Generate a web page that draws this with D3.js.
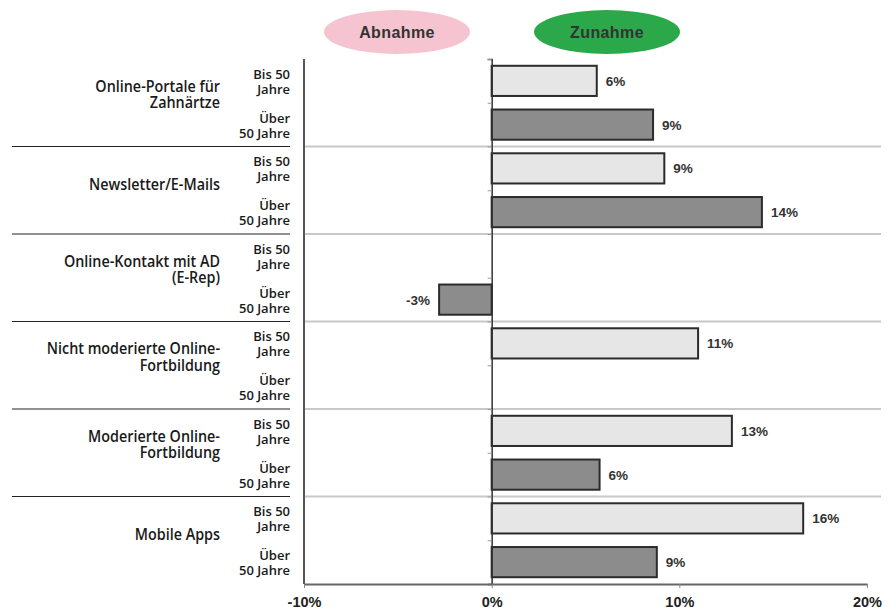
<!DOCTYPE html>
<html>
<head>
<meta charset="utf-8">
<script src="https://cdn.jsdelivr.net/npm/d3@7"></script>
<style>
  body { margin: 0; background: #fff; }
  svg { display: block; }
</style>
</head>
<body>
<script>
// categories (each one is the lines of its label)
const groups = [
  ['Online-Portale für', 'Zahnärtze'],
  ['Newsletter/E-Mails'],
  ['Online-Kontakt mit AD', '(E-Rep)'],
  ['Nicht moderierte Online-', 'Fortbildung'],
  ['Moderierte Online-', 'Fortbildung'],
  ['Mobile Apps']
];
const subgroups = ['bis50', 'ueber50'];
const subgroupLabels = [['Bis 50', 'Jahre'], ['Über', '50 Jahre']];

// change in %
const valuesBis50 = [5.6, 9.2, null, 11.0, 12.8, 16.6];
const valuesUeber50 = [8.6, 14.4, -2.8, null, 5.75, 8.8];
const labelsBis50 = ['6%', '9%', null, '11%', '13%', '16%'];
const labelsUeber50 = ['9%', '14%', '-3%', null, '6%', '9%'];

const xTicks = [-10, 0, 10, 20];
const legendItems = ['Abnahme', 'Zunahme'];

const width = 893;
const height = 610;
const margin = {top: 59, left: 304, right: 26, bottom: 26};

const svg = d3.select('body')
  .append('svg')
  .attr('width', width)
  .attr('height', height);

const xScale = d3.scaleLinear()
  .domain([-10, 20])
  .range([margin.left, width - margin.right]);

const y0 = d3.scaleBand()
  .domain(d3.range(groups.length))
  .range([margin.top, height - margin.bottom])
  .padding(0);

const y1 = d3.scaleBand()
  .domain(subgroups)
  .range([0, y0.bandwidth()])
  .paddingInner(0.31)
  .paddingOuter(0.155);

const rows = [];
groups.forEach((g, i) => {
  rows.push({g: i, sub: 'bis50', value: valuesBis50[i], label: labelsBis50[i]});
  rows.push({g: i, sub: 'ueber50', value: valuesUeber50[i], label: labelsUeber50[i]});
});

// legend ovals
const legendColor = d3.scaleOrdinal().domain(legendItems).range(['#f5c4d0', '#2ba84a']);
const legendX = d3.scaleOrdinal().domain(legendItems).range([397, 607]);
const legend = svg.selectAll('.legend')
  .data(legendItems)
  .enter()
  .append('g')
  .attr('transform', d => 'translate(' + legendX(d) + ',32)');
legend.append('ellipse')
  .attr('rx', 73)
  .attr('ry', 22)
  .style('fill', d => legendColor(d));
legend.append('text')
  .attr('text-anchor', 'middle')
  .attr('y', 6)
  .style('font-family', 'Liberation Sans, Arial, sans-serif')
  .style('font-weight', 'bold')
  .style('font-size', '16px')
  .style('letter-spacing', '0.4px')
  .style('fill', '#333')
  .text(d => d);

// group separators
const seps = d3.range(1, groups.length);
svg.selectAll('.sepLeft')
  .data(seps)
  .enter()
  .append('line')
  .attr('x1', 12).attr('x2', 290)
  .attr('y1', d => y0(d)).attr('y2', d => y0(d))
  .style('stroke', '#222')
  .style('stroke-width', 1);
svg.selectAll('.sepRight')
  .data(seps)
  .enter()
  .append('line')
  .attr('x1', margin.left).attr('x2', width - 12)
  .attr('y1', d => y0(d)).attr('y2', d => y0(d))
  .style('stroke', '#c8c8c8')
  .style('stroke-width', 2);

// bars
svg.selectAll('rect.bar')
  .data(rows.filter(d => d.value !== null))
  .enter()
  .append('rect')
  .attr('class', 'bar')
  .attr('x', d => xScale(Math.min(0, d.value)))
  .attr('y', d => y0(d.g) + y1(d.sub))
  .attr('width', d => Math.abs(xScale(d.value) - xScale(0)))
  .attr('height', y1.bandwidth())
  .style('fill', d => d.sub === 'bis50' ? '#e6e6e6' : '#8c8c8c')
  .style('stroke', '#2b2b2b')
  .style('stroke-width', 2);

// value labels
svg.selectAll('text.value')
  .data(rows.filter(d => d.value !== null))
  .enter()
  .append('text')
  .attr('class', 'value')
  .attr('x', d => d.value >= 0 ? xScale(d.value) + 9 : xScale(d.value) - 9)
  .attr('y', d => y0(d.g) + y1(d.sub) + y1.bandwidth() / 2 + 5)
  .attr('text-anchor', d => d.value >= 0 ? 'start' : 'end')
  .style('font-family', 'Liberation Sans, Arial, sans-serif')
  .style('font-weight', 'bold')
  .style('font-size', '13.5px')
  .style('fill', '#333')
  .text(d => d.label);

// zero line with small ticks at band edges
const zeroAxis = d3.axisLeft(d3.scaleLinear().domain([0, 12]).range([margin.top, height - margin.bottom]))
  .ticks(12)
  .tickSize(4)
  .tickFormat('');
svg.append('g')
  .attr('transform', 'translate(' + xScale(0) + ',0)')
  .call(zeroAxis)
  .call(g => g.select('.domain').style('stroke', '#333').style('stroke-width', 1.5))
  .call(g => g.selectAll('.tick line').style('stroke', '#999'));

// left frame line
svg.append('line')
  .attr('x1', margin.left).attr('x2', margin.left)
  .attr('y1', margin.top).attr('y2', height - margin.bottom)
  .style('stroke', '#555')
  .style('stroke-width', 2);

// x axis
const xAxis = d3.axisBottom(xScale)
  .tickValues(xTicks)
  .tickSize(4)
  .tickSizeOuter(0)
  .tickFormat(d => d + '%');
svg.append('g')
  .attr('transform', 'translate(0,' + (height - margin.bottom) + ')')
  .call(xAxis)
  .call(g => g.select('.domain').style('stroke', '#666').style('stroke-width', 2))
  .call(g => g.selectAll('.tick line').style('stroke', '#888'))
  .call(g => g.selectAll('.tick text')
    .attr('dy', 0)
    .attr('y', 23)
    .style('font-family', 'Liberation Sans, Arial, sans-serif')
    .style('font-weight', 'bold')
    .style('font-size', '14.5px')
    .style('fill', '#222'));

// group labels (narrowed a bit to look like the condensed original face)
const gl = svg.selectAll('.groupLabel')
  .data(groups)
  .enter()
  .append('text')
  .attr('transform', 'translate(220,0) scale(0.87,1)')
  .attr('text-anchor', 'end')
  .style('font-family', 'Open Sans, sans-serif')
  .style('font-weight', 600)
  .style('font-size', '16.5px')
  .style('fill', '#1a1a1a');
gl.selectAll('tspan')
  .data((d, i) => d.map((line, j) => ({line: line, j: j, n: d.length, g: i})))
  .enter()
  .append('tspan')
  .attr('x', 0)
  .attr('y', d => {
    const c = y0(d.g) + y0.bandwidth() / 2;
    if (d.n === 1) return c;
    return d.j === 0 ? c - 11 : c + 5.5;
  })
  .text(d => d.line);

// subgroup labels
const sl = svg.selectAll('.subLabel')
  .data(rows)
  .enter()
  .append('text')
  .attr('text-anchor', 'end')
  .style('font-family', 'Open Sans, sans-serif')
  .style('font-weight', 600)
  .style('font-size', '13px')
  .style('fill', '#1a1a1a');
sl.selectAll('tspan')
  .data(d => subgroupLabels[subgroups.indexOf(d.sub)].map((line, j) => ({line: line, j: j, c: y0(d.g) + y1(d.sub) + y1.bandwidth() / 2})))
  .enter()
  .append('tspan')
  .attr('x', 290)
  .attr('y', d => d.j === 0 ? d.c - 2 : d.c + 13)
  .text(d => d.line);
</script>
</body>
</html>
